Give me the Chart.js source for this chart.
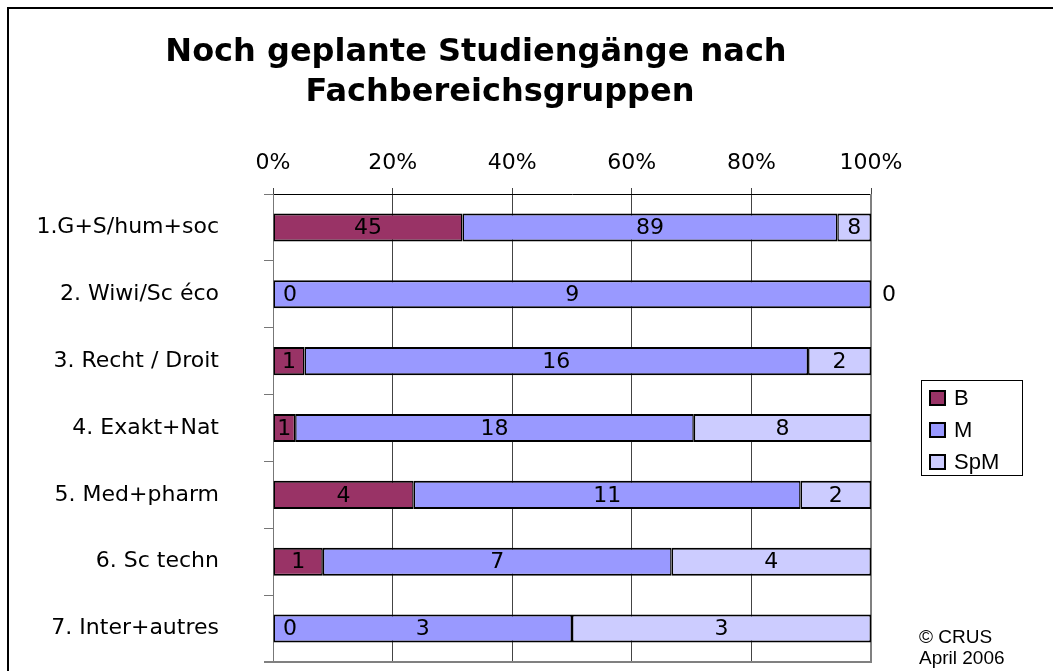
<!DOCTYPE html>
<html><head><meta charset="utf-8">
<script src="https://cdn.jsdelivr.net/npm/chart.js@4.4.0/dist/chart.umd.min.js"></script>
<style>
html,body{margin:0;padding:0;background:#fff;overflow:hidden;}
#wrap{position:relative;width:1053px;height:671px;overflow:hidden;background:#fff;}
#frame{position:absolute;left:7px;top:7px;width:1100px;height:700px;border:2px solid #000;box-sizing:border-box;}
#cbox{position:absolute;left:0;top:0;width:1053px;height:671px;}
.title{position:absolute;font-family:"DejaVu Sans";font-weight:bold;font-size:32px;white-space:nowrap;line-height:40px;transform:translateX(-50%);color:#000;}
#legend{position:absolute;left:921px;top:380px;width:102px;height:96px;border:1px solid #000;box-sizing:border-box;font-family:"Liberation Sans",Arial,sans-serif;font-size:22px;}
.li{position:absolute;left:7px;height:32px;line-height:32px;white-space:nowrap;}
.sw{position:absolute;left:0;top:8px;width:17px;height:16px;border:2px solid #000;box-sizing:border-box;}
.lt{position:absolute;left:25px;top:0;}
#copy{position:absolute;left:919px;top:626px;font-family:"Liberation Sans",Arial,sans-serif;font-size:19px;line-height:21px;color:#000;white-space:nowrap;}
</style>
</head><body>
<div id="wrap">
<div id="frame"></div>
<div id="cbox"><canvas id="c"></canvas></div>
<div class="title" style="left:476px;top:30px;">Noch geplante Studiengänge nach</div>
<div class="title" style="left:500px;top:70px;">Fachbereichsgruppen</div>
<div id="legend"></div>
<div id="copy">© CRUS<br>April 2006</div>
</div>
<script>
const categories = ['1.G+S/hum+soc', '2. Wiwi/Sc éco', '3. Recht / Droit', '4. Exakt+Nat', '5. Med+pharm', '6. Sc techn', '7. Inter+autres'];
const seriesNames = ['B', 'M', 'SpM'];
const valuesB = [45, 0, 1, 1, 4, 1, 0];
const valuesM = [89, 9, 16, 18, 11, 7, 3];
const valuesSpM = [8, 0, 2, 8, 2, 4, 3];
const xTickValues = [0, 20, 40, 60, 80, 100];
const colors = ['#993366', '#9999FF', '#CCCCFF'];

const counts = [valuesB, valuesM, valuesSpM];
const totals = categories.map((_, j) => counts.reduce((s, arr) => s + arr[j], 0));
const pct = arr => arr.map((v, j) => totals[j] ? v / totals[j] * 100 : 0);

const datasets = counts.map((arr, i) => ({
  label: seriesNames[i],
  data: pct(arr),
  backgroundColor: colors[i],
  borderColor: '#000',
  borderWidth: {top: 2, bottom: 2, left: 1.5, right: 1.5},
  borderSkipped: false,
  barPercentage: 0.42,
  categoryPercentage: 1.0
}));

const labelPlugin = {
  id: 'valueLabels',
  afterDatasetsDraw(chart) {
    const ctx = chart.ctx, area = chart.chartArea;
    ctx.save();
    ctx.font = '22px "DejaVu Sans"';
    ctx.fillStyle = '#000';
    ctx.textAlign = 'center';
    ctx.textBaseline = 'middle';
    chart.data.datasets.forEach((ds, i) => {
      const meta = chart.getDatasetMeta(i);
      meta.data.forEach((bar, j) => {
        const v = counts[i][j];
        let x = (bar.x + bar.base) / 2;
        if (v === 0) {
          x = Math.abs(bar.x - area.left) < 1 ? area.left + 17 : area.right + 18;
        }
        ctx.fillText(String(v), x, bar.y + 1);
      });
    });
    ctx.restore();
  }
};

const framePlugin = {
  id: 'plotFrame',
  beforeDatasetsDraw(chart) {
    const ctx = chart.ctx, a = chart.chartArea;
    ctx.save();
    ctx.strokeStyle = '#808080';
    ctx.lineWidth = 2;
    ctx.beginPath();
    ctx.moveTo(a.left - 9, a.bottom);
    ctx.lineTo(a.right + 1, a.bottom);
    ctx.moveTo(a.right, a.top);
    ctx.lineTo(a.right, a.bottom);
    ctx.stroke();
    ctx.restore();
  }
};

new Chart(document.getElementById('c'), {
  type: 'bar',
  data: {labels: categories, datasets},
  options: {
    indexAxis: 'y',
    responsive: true,
    maintainAspectRatio: false,
    animation: false,
    devicePixelRatio: 1,
    layout: {padding: {top: 110, right: 182, bottom: 9, left: 0}},
    plugins: {legend: {display: false}, title: {display: false}, tooltip: {enabled: false}},
    scales: {
      x: {
        position: 'top',
        stacked: true,
        min: 0, max: 100,
        afterBuildTicks: s => { s.ticks = xTickValues.map(v => ({value: v})); },
        afterFit: s => { s.height = 84; },
        ticks: {
          callback: v => v + '%',
          font: {family: 'DejaVu Sans', size: 22},
          color: '#000',
          padding: 12,
          maxRotation: 0
        },
        grid: {color: '#444', lineWidth: 1, tickLength: 6},
        border: {color: '#000', width: 1}
      },
      y: {
        stacked: true,
        afterFit: s => { s.width = 273; s.paddingTop = 0; s.paddingBottom = 0; },
        ticks: {
          font: {family: 'DejaVu Sans', size: 22},
          color: '#000',
          padding: 45
        },
        grid: {drawOnChartArea: false, color: '#777', tickLength: 9, offset: true},
        border: {color: '#777', width: 1}
      }
    }
  },
  plugins: [framePlugin, labelPlugin]
});

const legend = document.getElementById('legend');
seriesNames.forEach((n, i) => {
  const d = document.createElement('div');
  d.className = 'li';
  d.style.top = (1 + i * 32) + 'px';
  d.innerHTML = '<span class="sw" style="background:' + colors[i] + '"></span><span class="lt">' + n + '</span>';
  legend.appendChild(d);
});
</script>
</body></html>
